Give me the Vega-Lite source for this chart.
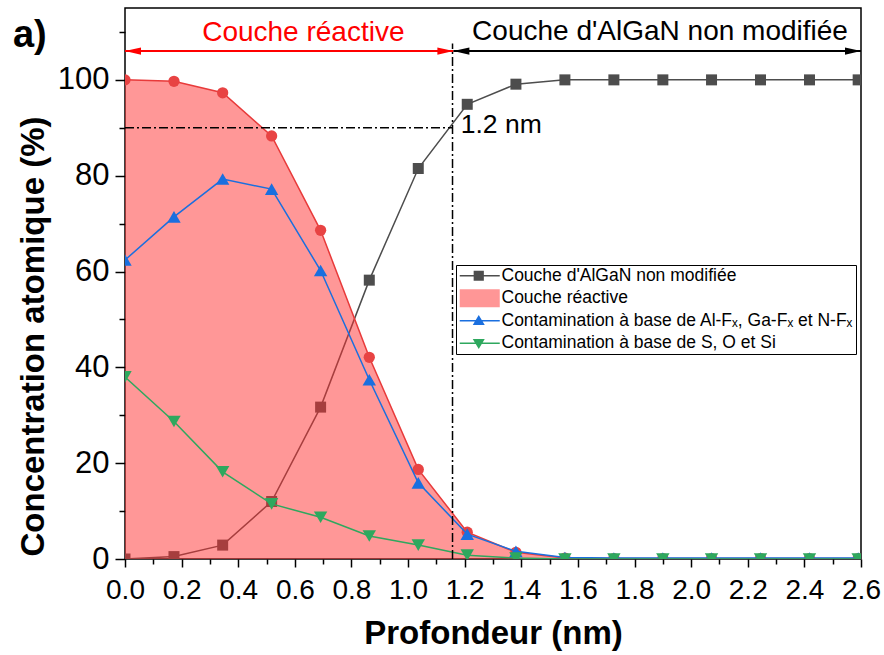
{
  "$schema": "https://vega.github.io/schema/vega-lite/v6.json",
  "width": 736,
  "height": 551,
  "autosize": "none",
  "padding": {"left": 125, "top": 8, "right": 23, "bottom": 96},
  "background": "white",
  "datasets": {
    "pts": [
      {"x": 0, "y": 0, "s": "A"}, {"x": 0.173, "y": 0.5, "s": "A"}, {"x": 0.345, "y": 2.9, "s": "A"}, {"x": 0.518, "y": 12.0, "s": "A"},
      {"x": 0.691, "y": 31.7, "s": "A"}, {"x": 0.863, "y": 58.2, "s": "A"}, {"x": 1.036, "y": 81.5, "s": "A"}, {"x": 1.209, "y": 94.9, "s": "A"},
      {"x": 1.381, "y": 99.1, "s": "A"}, {"x": 1.554, "y": 100, "s": "A"}, {"x": 1.727, "y": 100, "s": "A"}, {"x": 1.9, "y": 100, "s": "A"},
      {"x": 2.072, "y": 100, "s": "A"}, {"x": 2.245, "y": 100, "s": "A"}, {"x": 2.418, "y": 100, "s": "A"}, {"x": 2.59, "y": 100, "s": "A"},
      {"x": 0, "y": 100, "s": "R"}, {"x": 0.173, "y": 99.7, "s": "R"}, {"x": 0.345, "y": 97.3, "s": "R"}, {"x": 0.518, "y": 88.3, "s": "R"},
      {"x": 0.691, "y": 68.6, "s": "R"}, {"x": 0.863, "y": 42.1, "s": "R"}, {"x": 1.036, "y": 18.7, "s": "R"}, {"x": 1.209, "y": 5.6, "s": "R"},
      {"x": 1.381, "y": 1.4, "s": "R"}, {"x": 1.554, "y": 0.2, "s": "R"}, {"x": 1.727, "y": 0.1, "s": "R"}, {"x": 1.9, "y": 0.1, "s": "R"},
      {"x": 2.072, "y": 0.1, "s": "R"}, {"x": 2.245, "y": 0.1, "s": "R"}, {"x": 2.418, "y": 0.1, "s": "R"}, {"x": 2.59, "y": 0.1, "s": "R"},
      {"x": 0, "y": 62.4, "s": "F"}, {"x": 0.173, "y": 71.4, "s": "F"}, {"x": 0.345, "y": 79.3, "s": "F"}, {"x": 0.518, "y": 77.2, "s": "F"},
      {"x": 0.691, "y": 60.2, "s": "F"}, {"x": 0.863, "y": 37.4, "s": "F"}, {"x": 1.036, "y": 15.9, "s": "F"}, {"x": 1.209, "y": 5.2, "s": "F"},
      {"x": 1.381, "y": 1.6, "s": "F"}, {"x": 1.554, "y": 0.3, "s": "F"}, {"x": 1.727, "y": 0.2, "s": "F"}, {"x": 1.9, "y": 0.2, "s": "F"},
      {"x": 2.072, "y": 0.2, "s": "F"}, {"x": 2.245, "y": 0.2, "s": "F"}, {"x": 2.418, "y": 0.2, "s": "F"}, {"x": 2.59, "y": 0.2, "s": "F"},
      {"x": 0, "y": 38.0, "s": "S"}, {"x": 0.173, "y": 28.7, "s": "S"}, {"x": 0.345, "y": 18.2, "s": "S"}, {"x": 0.518, "y": 11.5, "s": "S"},
      {"x": 0.691, "y": 8.7, "s": "S"}, {"x": 0.863, "y": 4.8, "s": "S"}, {"x": 1.036, "y": 2.9, "s": "S"}, {"x": 1.209, "y": 0.8, "s": "S"},
      {"x": 1.381, "y": 0.2, "s": "S"}, {"x": 1.554, "y": 0, "s": "S"}, {"x": 1.727, "y": 0, "s": "S"}, {"x": 1.9, "y": 0, "s": "S"},
      {"x": 2.072, "y": 0, "s": "S"}, {"x": 2.245, "y": 0, "s": "S"}, {"x": 2.418, "y": 0, "s": "S"}, {"x": 2.59, "y": 0, "s": "S"}
    ],
    "guides": [
      {"g": "h", "x": 0, "x2": 1.157, "y": 90, "y2": 90},
      {"g": "v", "x": 1.157, "x2": 1.157, "y": 0, "y2": 107.6},
      {"g": "ra", "x": 0, "x2": 1.16, "y": 106, "y2": 106},
      {"g": "ba", "x": 1.16, "x2": 2.6, "y": 106, "y2": 106}
    ],
    "heads": [
      {"h": "rl", "x": 0, "y": 106},
      {"h": "rr", "x": 1.16, "y": 106},
      {"h": "bl", "x": 1.16, "y": 106},
      {"h": "br", "x": 2.6, "y": 106}
    ],
    "notes": [
      {"n": "red", "x": 0.63, "y": 108.1, "text": "Couche réactive"},
      {"n": "black", "x": 1.89, "y": 108.4, "text": "Couche d'AlGaN non modifiée"},
      {"n": "nm", "x": 1.186, "y": 88.85, "text": "1.2 nm"},
      {"n": "panel", "x": -0.396, "y": 106.9, "text": "a)"}
    ]
  },
  "resolve": {"axis": {"x": "independent", "y": "independent"}},
  "layer": [
    {
      "data": {"name": "pts"},
      "transform": [{"filter": "datum.s === 'A'"}],
      "mark": {"type": "line", "color": "#4D4D4D", "strokeWidth": 1.5, "clip": true},
      "encoding": {
        "x": {"field": "x", "type": "quantitative", "scale": {"domain": [0, 2.6], "nice": false, "zero": false},
          "axis": {"orient": "bottom", "values": [0,0.2,0.4,0.6,0.8,1.0,1.2,1.4,1.6,1.8,2.0,2.2,2.4,2.6],
            "format": ".1f", "tickSize": 8,
            "title": "Profondeur (nm)", "domain": false, "grid": false, "tickColor": "black", "tickWidth": 1.5,
            "labelFont": "Liberation Sans", "labelFontSize": 28, "labelColor": "black", "labelPadding": 9,
            "labelOverlap": false, "labelFlush": false, "labelBound": false,
            "titleFont": "Liberation Sans", "titleFontSize": 33, "titleFontWeight": "bold", "titleColor": "black", "titlePadding": 13}},
        "y": {"field": "y", "type": "quantitative", "scale": {"domain": [0, 115], "nice": false},
          "axis": {"orient": "left", "values": [0,20,40,60,80,100],
            "tickSize": 10,
            "title": "Concentration atomique (%)", "domain": false, "grid": false, "tickColor": "black", "tickWidth": 1.5,
            "labelFont": "Liberation Sans", "labelFontSize": 31, "labelColor": "black", "labelPadding": 6,
            "labelOverlap": false, "labelFlush": false, "labelBound": false,
            "titleFont": "Liberation Sans", "titleFontSize": 33, "titleFontWeight": "bold", "titleColor": "black", "titlePadding": 7, "titleY": 328}}
      }
    },
    {
      "data": {"name": "pts"},
      "transform": [{"filter": "datum.s === 'A'"}],
      "mark": {"type": "point", "shape": "square", "filled": true, "size": 121, "color": "#4D4D4D", "opacity": 1, "clip": true},
      "encoding": {
        "x": {"field": "x", "type": "quantitative", "scale": {"domain": [0, 2.6], "nice": false, "zero": false},
          "axis": {"orient": "bottom", "values": [0.1,0.3,0.5,0.7,0.9,1.1,1.3,1.5,1.7,1.9,2.1,2.3,2.5], "labels": false, "title": null,
            "tickSize": 5, "domain": false, "grid": false, "tickColor": "black", "tickWidth": 1.5}},
        "y": {"field": "y", "type": "quantitative", "scale": {"domain": [0, 115], "nice": false},
          "axis": {"orient": "left", "values": [10,30,50,70,90,110], "labels": false, "title": null,
            "tickSize": 6, "domain": false, "grid": false, "tickColor": "black", "tickWidth": 1.5}}
      }
    },
    {
      "data": {"name": "pts"},
      "transform": [{"filter": "datum.s === 'R'"}],
      "mark": {"type": "area", "color": "#FF3030", "opacity": 0.5, "clip": true},
      "encoding": {
        "x": {"field": "x", "type": "quantitative", "scale": {"domain": [0, 2.6], "nice": false, "zero": false}, "axis": null},
        "y": {"field": "y", "type": "quantitative", "scale": {"domain": [0, 115], "nice": false}, "axis": null}
      }
    },
    {
      "data": {"name": "pts"},
      "transform": [{"filter": "datum.s === 'R'"}],
      "mark": {"type": "line", "color": "#E83A3A", "strokeWidth": 1.5, "clip": true},
      "encoding": {
        "x": {"field": "x", "type": "quantitative", "scale": {"domain": [0, 2.6], "nice": false, "zero": false}, "axis": null},
        "y": {"field": "y", "type": "quantitative", "scale": {"domain": [0, 115], "nice": false}, "axis": null}
      }
    },
    {
      "data": {"name": "pts"},
      "transform": [{"filter": "datum.s === 'R'"}],
      "mark": {"type": "point", "shape": "circle", "filled": true, "size": 127, "color": "#E84343", "opacity": 1, "clip": true},
      "encoding": {
        "x": {"field": "x", "type": "quantitative", "scale": {"domain": [0, 2.6], "nice": false, "zero": false}, "axis": null},
        "y": {"field": "y", "type": "quantitative", "scale": {"domain": [0, 115], "nice": false}, "axis": null}
      }
    },
    {
      "data": {"name": "pts"},
      "transform": [{"filter": "datum.s === 'F'"}],
      "mark": {"type": "line", "color": "#1A6FDF", "strokeWidth": 1.5, "clip": true},
      "encoding": {
        "x": {"field": "x", "type": "quantitative", "scale": {"domain": [0, 2.6], "nice": false, "zero": false}, "axis": null},
        "y": {"field": "y", "type": "quantitative", "scale": {"domain": [0, 115], "nice": false}, "axis": null}
      }
    },
    {
      "data": {"name": "pts"},
      "transform": [{"filter": "datum.s === 'F'"}],
      "mark": {"type": "point", "shape": "triangle-up", "filled": true, "size": 180, "color": "#1A6FDF", "opacity": 1, "clip": true},
      "encoding": {
        "x": {"field": "x", "type": "quantitative", "scale": {"domain": [0, 2.6], "nice": false, "zero": false}, "axis": null},
        "y": {"field": "y", "type": "quantitative", "scale": {"domain": [0, 115], "nice": false}, "axis": null}
      }
    },
    {
      "data": {"name": "pts"},
      "transform": [{"filter": "datum.s === 'S'"}],
      "mark": {"type": "line", "color": "#2EA85E", "strokeWidth": 1.5, "clip": true},
      "encoding": {
        "x": {"field": "x", "type": "quantitative", "scale": {"domain": [0, 2.6], "nice": false, "zero": false}, "axis": null},
        "y": {"field": "y", "type": "quantitative", "scale": {"domain": [0, 115], "nice": false}, "axis": null}
      }
    },
    {
      "data": {"name": "pts"},
      "transform": [{"filter": "datum.s === 'S'"}],
      "mark": {"type": "point", "shape": "triangle-down", "filled": true, "size": 180, "color": "#2EA85E", "opacity": 1, "clip": true},
      "encoding": {
        "x": {"field": "x", "type": "quantitative", "scale": {"domain": [0, 2.6], "nice": false, "zero": false}, "axis": null},
        "y": {"field": "y", "type": "quantitative", "scale": {"domain": [0, 115], "nice": false}, "axis": null}
      }
    },
    {
      "data": {"name": "guides"},
      "transform": [{"filter": "datum.g === 'h' || datum.g === 'v'"}],
      "mark": {"type": "rule", "color": "black", "strokeWidth": 1.5, "strokeDash": [9, 3, 2, 3]},
      "encoding": {
        "x": {"field": "x", "type": "quantitative", "scale": {"domain": [0, 2.6], "nice": false, "zero": false}, "axis": null},
        "x2": {"field": "x2"},
        "y": {"field": "y", "type": "quantitative", "scale": {"domain": [0, 115], "nice": false}, "axis": null},
        "y2": {"field": "y2"}
      }
    },
    {
      "data": {"name": "guides"},
      "transform": [{"filter": "datum.g === 'ra'"}],
      "mark": {"type": "rule", "color": "#FF0000", "strokeWidth": 2},
      "encoding": {
        "x": {"field": "x", "type": "quantitative", "scale": {"domain": [0, 2.6], "nice": false, "zero": false}, "axis": null},
        "x2": {"field": "x2"},
        "y": {"field": "y", "type": "quantitative", "scale": {"domain": [0, 115], "nice": false}, "axis": null}
      }
    },
    {
      "data": {"name": "guides"},
      "transform": [{"filter": "datum.g === 'ba'"}],
      "mark": {"type": "rule", "color": "black", "strokeWidth": 2},
      "encoding": {
        "x": {"field": "x", "type": "quantitative", "scale": {"domain": [0, 2.6], "nice": false, "zero": false}, "axis": null},
        "x2": {"field": "x2"},
        "y": {"field": "y", "type": "quantitative", "scale": {"domain": [0, 115], "nice": false}, "axis": null}
      }
    },
    {
      "data": {"name": "heads"},
      "transform": [{"filter": "datum.h === 'rl'"}],
      "mark": {"type": "point", "shape": "M0,0 L2,-0.45 L2,0.45 Z", "filled": true, "size": 256, "color": "#FF0000", "opacity": 1},
      "encoding": {
        "x": {"field": "x", "type": "quantitative", "scale": {"domain": [0, 2.6], "nice": false, "zero": false}, "axis": null},
        "y": {"field": "y", "type": "quantitative", "scale": {"domain": [0, 115], "nice": false}, "axis": null}
      }
    },
    {
      "data": {"name": "heads"},
      "transform": [{"filter": "datum.h === 'rr'"}],
      "mark": {"type": "point", "shape": "M0,0 L-2,-0.45 L-2,0.45 Z", "filled": true, "size": 256, "color": "#FF0000", "opacity": 1},
      "encoding": {
        "x": {"field": "x", "type": "quantitative", "scale": {"domain": [0, 2.6], "nice": false, "zero": false}, "axis": null},
        "y": {"field": "y", "type": "quantitative", "scale": {"domain": [0, 115], "nice": false}, "axis": null}
      }
    },
    {
      "data": {"name": "heads"},
      "transform": [{"filter": "datum.h === 'bl'"}],
      "mark": {"type": "point", "shape": "M0,0 L2,-0.45 L2,0.45 Z", "filled": true, "size": 256, "color": "black", "opacity": 1},
      "encoding": {
        "x": {"field": "x", "type": "quantitative", "scale": {"domain": [0, 2.6], "nice": false, "zero": false}, "axis": null},
        "y": {"field": "y", "type": "quantitative", "scale": {"domain": [0, 115], "nice": false}, "axis": null}
      }
    },
    {
      "data": {"name": "heads"},
      "transform": [{"filter": "datum.h === 'br'"}],
      "mark": {"type": "point", "shape": "M0,0 L-2,-0.45 L-2,0.45 Z", "filled": true, "size": 256, "color": "black", "opacity": 1},
      "encoding": {
        "x": {"field": "x", "type": "quantitative", "scale": {"domain": [0, 2.6], "nice": false, "zero": false}, "axis": null},
        "y": {"field": "y", "type": "quantitative", "scale": {"domain": [0, 115], "nice": false}, "axis": null}
      }
    },
    {
      "data": {"name": "notes"},
      "transform": [{"filter": "datum.n === 'red'"}],
      "mark": {"type": "text", "font": "Liberation Sans", "fontSize": 28, "color": "#FF0000", "align": "center", "baseline": "alphabetic"},
      "encoding": {
        "x": {"field": "x", "type": "quantitative", "scale": {"domain": [0, 2.6], "nice": false, "zero": false}, "axis": null},
        "y": {"field": "y", "type": "quantitative", "scale": {"domain": [0, 115], "nice": false}, "axis": null},
        "text": {"field": "text"}
      }
    },
    {
      "data": {"name": "notes"},
      "transform": [{"filter": "datum.n === 'black'"}],
      "mark": {"type": "text", "font": "Liberation Sans", "fontSize": 28, "color": "black", "align": "center", "baseline": "alphabetic"},
      "encoding": {
        "x": {"field": "x", "type": "quantitative", "scale": {"domain": [0, 2.6], "nice": false, "zero": false}, "axis": null},
        "y": {"field": "y", "type": "quantitative", "scale": {"domain": [0, 115], "nice": false}, "axis": null},
        "text": {"field": "text"}
      }
    },
    {
      "data": {"name": "notes"},
      "transform": [{"filter": "datum.n === 'nm'"}],
      "mark": {"type": "text", "font": "Liberation Sans", "fontSize": 26.5, "color": "black", "align": "left", "baseline": "alphabetic"},
      "encoding": {
        "x": {"field": "x", "type": "quantitative", "scale": {"domain": [0, 2.6], "nice": false, "zero": false}, "axis": null},
        "y": {"field": "y", "type": "quantitative", "scale": {"domain": [0, 115], "nice": false}, "axis": null},
        "text": {"field": "text"}
      }
    },
    {
      "data": {"name": "notes"},
      "transform": [{"filter": "datum.n === 'panel'"}],
      "mark": {"type": "text", "font": "Liberation Sans", "fontSize": 38, "fontWeight": "bold", "color": "black", "align": "left", "baseline": "alphabetic"},
      "encoding": {
        "x": {"field": "x", "type": "quantitative", "scale": {"domain": [0, 2.6], "nice": false, "zero": false}, "axis": null},
        "y": {"field": "y", "type": "quantitative", "scale": {"domain": [0, 115], "nice": false}, "axis": null},
        "text": {"field": "text"}
      }
    },
    {
      "data": {"name": "pts"},
      "transform": [{"filter": "datum.x > 100"}],
      "mark": {"type": "point", "filled": true, "opacity": 1},
      "encoding": {
        "shape": {"field": "s", "type": "nominal",
          "scale": {"domain": ["A", "R", "F", "S"],
            "range": [
              "M-1.17,-0.13 L5.5,-0.13 L5.5,0.13 L-1.17,0.13 Z M1.15,-0.85 L2.85,-0.85 L2.85,0.85 L1.15,0.85 Z",
              "M-1.17,-1.5 L5.5,-1.5 L5.5,1.5 L-1.17,1.5 Z",
              "M-1.17,-0.13 L5.5,-0.13 L5.5,0.13 L-1.17,0.13 Z M2,-0.95 L3.0,0.7 L1.0,0.7 Z",
              "M-1.17,-0.13 L5.5,-0.13 L5.5,0.13 L-1.17,0.13 Z M1.0,-0.7 L3.0,-0.7 L2,0.95 Z"
            ]},
          "legend": {"orient": "none", "legendX": 331, "legendY": 257, "title": null,
            "labelExpr": "datum.value === 'A' ? \"Couche d'AlGaN non modifiée\" : datum.value === 'R' ? 'Couche réactive' : datum.value === 'F' ? 'Contamination à base de Al-Fₓ, Ga-Fₓ et N-Fₓ' : 'Contamination à base de S, O et Si'",
            "strokeColor": "black", "padding": 2, "fillColor": "white",
            "labelFont": "Liberation Sans", "labelFontSize": 17.5, "labelColor": "black", "labelLimit": 0,
            "symbolSize": 144, "symbolStrokeWidth": 0, "labelOffset": 26, "rowPadding": 3.5}},
        "color": {"field": "s", "type": "nominal",
          "scale": {"domain": ["A", "R", "F", "S"], "range": ["#4D4D4D", "#FF9696", "#1A6FDF", "#2EA85E"]},
          "legend": {"orient": "none", "legendX": 331, "legendY": 257, "title": null}}
      }
    }
  ],
  "config": {
    "view": {"stroke": "black", "strokeWidth": 1.5},
    "font": "Liberation Sans"
  }
}
